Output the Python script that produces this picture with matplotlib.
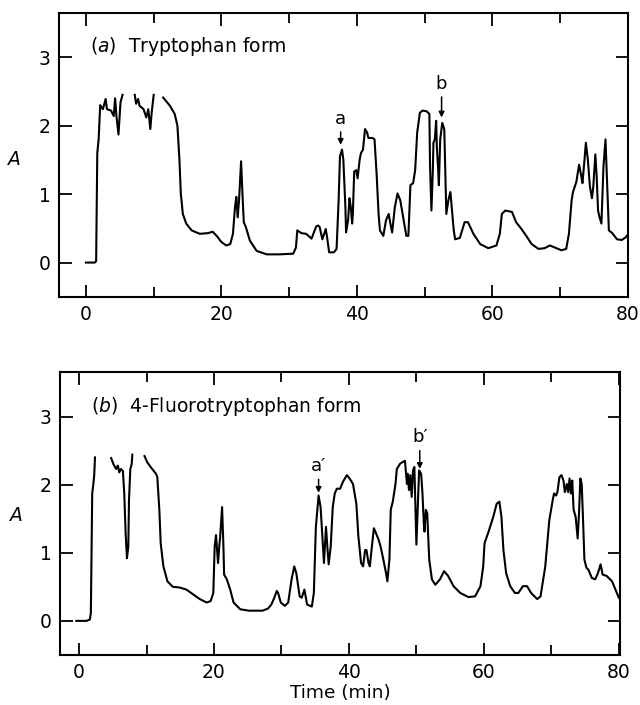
import matplotlib
matplotlib.use("Agg")
import matplotlib.pyplot as plt
from matplotlib.ticker import MultipleLocator
import numpy as np

plt.rcParams["font.family"] = ["DejaVu Sans"]
plt.rcParams["mathtext.fontset"] = "dejavusans"

nan = np.nan

# (a) tryptophan form: time (min) vs absorbance, nan = off scale
trp_time = [0, 1.3, 1.5, 1.67, 1.87, 2.1, 2.5, 2.9, 3.1, 3.7, 4.1, 4.3, 4.5, 4.8, 5.1, 5.4, nan,
            7.2, 7.4, 7.7, 7.9, 8.5, 8.9, 9.2, 9.5, 9.7, 10.0, nan,
            11.4, 12.4, 13.1, 13.5, 13.8, 14.0, 14.3, 14.8, 15.6, 16.8, 18.0, 18.7, 19.3, 20.0,
            20.7, 21.3, 21.7, 22.0, 22.2, 22.4, 22.6, 22.9, 23.1, 23.3, 23.6, 24.2, 25.2, 26.7,
            28.6, 30.6, 31.0, 31.2, 31.8, 32.5, 33.3, 34.0, 34.3, 34.5, 34.9, 35.4, 35.6, 35.9,
            36.6, 37.0, 37.3, 37.5, 37.8, 38.0, 38.3, 38.4, 38.7, 38.9, 39.1, 39.3, 39.4, 39.6,
            39.9, 40.1, 40.4, 40.6, 40.9, 41.2, 41.5, 41.7, 42.3, 42.6, 42.9, 43.2, 43.4, 43.9,
            44.3, 44.7, 44.9, 45.2, 45.6, 46.0, 46.4, 46.9, 47.3, 47.6, 47.9, 48.3, 48.6, 48.9,
            49.3, 49.7, 50.3, 50.7, 50.8, 51.0, 51.2, 51.3, 51.5, 51.7, 51.8, 52.0, 52.1, 52.3,
            52.6, 52.9, 53.1, 53.2, 53.5, 53.8, 54.0, 54.3, 54.5, 55.2, 55.9, 56.4, 57.2, 58.2,
            59.4, 60.6, 61.1, 61.4, 61.9, 62.9, 63.5, 64.3, 65.0, 65.8, 66.8, 67.7, 68.5, 69.2,
            70.2, 70.9, 71.3, 71.7, 71.9, 72.4, 72.8, 73.1, 73.3, 73.6, 73.8, 74.1, 74.4, 74.7,
            74.9, 75.2, 75.4, 75.6, 75.8, 76.1, 76.4, 76.7, 76.9, 77.2, 77.7, 78.4, 79.1, 79.7, 80.4]
trp_abs = [0, 0, 0.02, 1.6, 1.8, 2.3, 2.24, 2.39, 2.24, 2.22, 2.14, 2.4, 2.14, 1.87, 2.34, 2.45, nan,
           2.45, 2.32, 2.39, 2.29, 2.24, 2.12, 2.24, 1.95, 2.19, 2.45, nan,
           2.41, 2.29, 2.17, 2.0, 1.5, 1.01, 0.71, 0.57, 0.47, 0.42, 0.43, 0.45, 0.39, 0.3,
           0.25, 0.27, 0.42, 0.81, 0.96, 0.66, 0.91, 1.48, 1.01, 0.59, 0.52, 0.32, 0.17, 0.12,
           0.12, 0.13, 0.22, 0.47, 0.43, 0.42, 0.35, 0.53, 0.54, 0.52, 0.34, 0.49, 0.37, 0.15,
           0.15, 0.2, 0.91, 1.55, 1.65, 1.5, 0.81, 0.44, 0.62, 0.94, 0.81, 0.57, 0.71, 1.33,
           1.35, 1.23, 1.5, 1.6, 1.65, 1.95, 1.9, 1.82, 1.82, 1.8, 1.31, 0.71, 0.47, 0.39,
           0.62, 0.71, 0.59, 0.44, 0.81, 1.01, 0.91, 0.62, 0.39, 0.39, 1.13, 1.16, 1.35, 1.9,
           2.19, 2.22, 2.21, 2.17, 1.4, 0.76, 1.31, 1.75, 1.8, 2.07, 1.7, 1.35, 1.13, 1.8,
           2.04, 1.95, 1.11, 0.71, 0.91, 1.03, 0.81, 0.47, 0.34, 0.36, 0.59, 0.59, 0.42, 0.27,
           0.21, 0.25, 0.42, 0.71, 0.76, 0.74, 0.59, 0.49, 0.39, 0.27, 0.2, 0.21, 0.25, 0.22,
           0.18, 0.2, 0.42, 0.91, 1.03, 1.18, 1.43, 1.28, 1.16, 1.5, 1.75, 1.5, 1.11, 0.94,
           1.11, 1.58, 1.26, 0.76, 0.67, 0.57, 1.4, 1.8, 1.26, 0.47, 0.43, 0.34, 0.33, 0.37, 0.47]

# (b) 4-fluorotryptophan form
ftrp_time = [-0.4, 1.1, 1.6, 1.75, 1.85, 1.95, 2.1, 2.25, 2.36, nan,
             4.76, 5.1, 5.5, 5.76, 5.96, 6.2, 6.5, 6.7, 6.9, 7.1, 7.3, 7.4, 7.6, 7.8, 7.9, nan,
             9.7, 10.1, 10.6, 11.4, 11.6, 11.9, 12.1, 12.5, 13.1, 13.9, 14.9, 15.9, 16.9, 17.9,
             18.9, 19.5, 19.9, 20.1, 20.3, 20.6, 20.8, 20.9, 21.2, 21.4, 21.5, 21.9, 22.4, 22.9,
             23.9, 25.2, 27.2, 28.0, 28.5, 28.9, 29.3, 29.5, 29.9, 30.5, 31.0, 31.5, 31.9, 32.2,
             32.7, 33.0, 33.4, 33.8, 34.5, 34.8, 35.1, 35.5, 35.8, 36.1, 36.3, 36.6, 36.8, 37.0,
             37.3, 37.6, 37.9, 38.2, 38.7, 39.1, 39.4, 39.7, 40.1, 40.6, 41.1, 41.4, 41.8, 42.1,
             42.4, 42.6, 42.9, 43.1, 43.4, 43.7, 44.0, 44.4, 44.7, 45.1, 45.5, 45.7, 46.0, 46.2,
             46.5, 46.9, 47.1, 47.6, 48.3, 48.6, 48.7, 48.9, 49.1, 49.3, 49.5, 49.7, 49.9, 50.0,
             50.2, 50.4, 50.7, 50.9, 51.1, 51.2, 51.4, 51.6, 51.9, 52.3, 52.8, 53.5, 54.1, 54.7,
             55.5, 56.5, 57.7, 58.7, 59.5, 59.9, 60.1, 60.7, 61.4, 61.9, 62.3, 62.6, 62.9, 63.3,
             63.9, 64.6, 65.1, 65.8, 66.4, 67.0, 67.9, 68.4, 69.1, 69.7, 70.2, 70.4, 70.7, 70.9,
             71.2, 71.5, 71.8, 72.0, 72.3, 72.5, 72.7, 72.9, 73.1, 73.3, 73.6, 73.9, 74.1, 74.3,
             74.5, 74.7, 74.9, 75.2, 75.5, 76.0, 76.5, 76.9, 77.3, 77.6, 78.2, 79.0, 79.5, 80.0]
ftrp_abs = [0, 0, 0.02, 0.12, 0.95, 1.87, 1.99, 2.14, 2.4, nan,
            2.39, 2.3, 2.23, 2.28, 2.18, 2.23, 2.2, 1.87, 1.29, 0.92, 1.09, 1.77, 2.23, 2.3, 2.44, nan,
            2.42, 2.33, 2.26, 2.16, 2.11, 1.63, 1.14, 0.8, 0.58, 0.5, 0.49, 0.46, 0.39, 0.32,
            0.27, 0.29, 0.41, 1.09, 1.26, 0.85, 1.12, 1.21, 1.67, 1.09, 0.68, 0.61, 0.46, 0.27,
            0.17, 0.15, 0.15, 0.18, 0.24, 0.33, 0.44, 0.41, 0.27, 0.22, 0.27, 0.61, 0.8, 0.7,
            0.36, 0.34, 0.46, 0.24, 0.21, 0.41, 1.38, 1.84, 1.67, 1.19, 0.85, 1.38, 1.09, 0.83,
            1.09, 1.67, 1.87, 1.94, 1.94, 2.04, 2.09, 2.14, 2.09, 2.01, 1.72, 1.24, 0.85, 0.8,
            1.04, 1.04, 0.85, 0.8, 1.09, 1.36, 1.29, 1.19, 1.09, 0.9, 0.7, 0.58, 0.9, 1.63,
            1.75, 2.01, 2.23, 2.31, 2.35, 2.01, 2.16, 1.92, 2.14, 1.82, 2.21, 2.26, 1.48, 1.12,
            1.67, 2.21, 2.16, 1.87, 1.43, 1.31, 1.63, 1.58, 0.9, 0.61, 0.53, 0.61, 0.73, 0.66,
            0.51, 0.41, 0.35, 0.36, 0.51, 0.8, 1.14, 1.31, 1.53, 1.72, 1.75, 1.53, 1.04, 0.7,
            0.51, 0.41, 0.41, 0.51, 0.51, 0.41, 0.32, 0.36, 0.8, 1.48, 1.77, 1.87, 1.84, 1.89,
            2.11, 2.14, 2.06, 1.89, 2.01, 1.89, 2.09, 1.87, 2.06, 1.63, 1.53, 1.21, 1.58, 2.09,
            2.01, 1.48, 0.9, 0.78, 0.75, 0.63, 0.61, 0.7, 0.83, 0.68, 0.66, 0.58, 0.46, 0.34]

# peak markers: label, time, tip absorbance, text absorbance
trp_peaks = [("a", 37.6, 1.72, 1.97), ("b", 52.5, 2.12, 2.48)]
ftrp_peaks = [("a\u2032", 35.5, 1.88, 2.14), ("b\u2032", 50.5, 2.23, 2.56)]


def draw_panel(ax, t, a, peaks, title, xlim, ylab_y):
    ax.plot(t, a, color="black", lw=1.5, solid_joinstyle="round")
    ax.set_xlim(*xlim)
    ax.set_ylim(-0.5, 3.65)
    ax.xaxis.set_major_locator(MultipleLocator(20))
    ax.xaxis.set_minor_locator(MultipleLocator(10))
    ax.yaxis.set_major_locator(MultipleLocator(1))
    ax.tick_params(which="both", direction="in", top=True, right=True, width=1.3)
    ax.tick_params(which="major", length=9, labelsize=13.5, pad=6)
    ax.tick_params(which="minor", length=7)
    for s in ax.spines.values():
        s.set_linewidth(1.5)
    ax.set_ylabel("A", style="italic", rotation=0, fontsize=13.5, va="center", ha="center")
    ax.yaxis.set_label_coords(-0.078, ylab_y)
    ax.text(0.055, 0.88, title, transform=ax.transAxes, fontsize=13.5, va="center")
    for lab, x, tip, ty in peaks:
        ax.annotate(lab, xy=(x, tip), xytext=(x, ty), fontsize=13, ha="center", va="bottom",
                    arrowprops=dict(arrowstyle="-|>", color="black", lw=1.1,
                                    mutation_scale=8, shrinkA=1, shrinkB=0))


fig = plt.figure(figsize=(6.4, 7.05), dpi=100)
ax1 = fig.add_axes([0.092, 0.579, 0.889, 0.403])
ax2 = fig.add_axes([0.094, 0.071, 0.875, 0.401])

draw_panel(ax1, trp_time, trp_abs, trp_peaks, r"($\it{a}$)  Tryptophan form", (-4, 80), 0.482)
draw_panel(ax2, ftrp_time, ftrp_abs, ftrp_peaks, r"($\it{b}$)  4-Fluorotryptophan form",
           (-2.8, 80.2), 0.495)
ax2.set_xlabel("Time (min)", fontsize=13.3, labelpad=1)

fig.savefig("out.png", dpi=100)
